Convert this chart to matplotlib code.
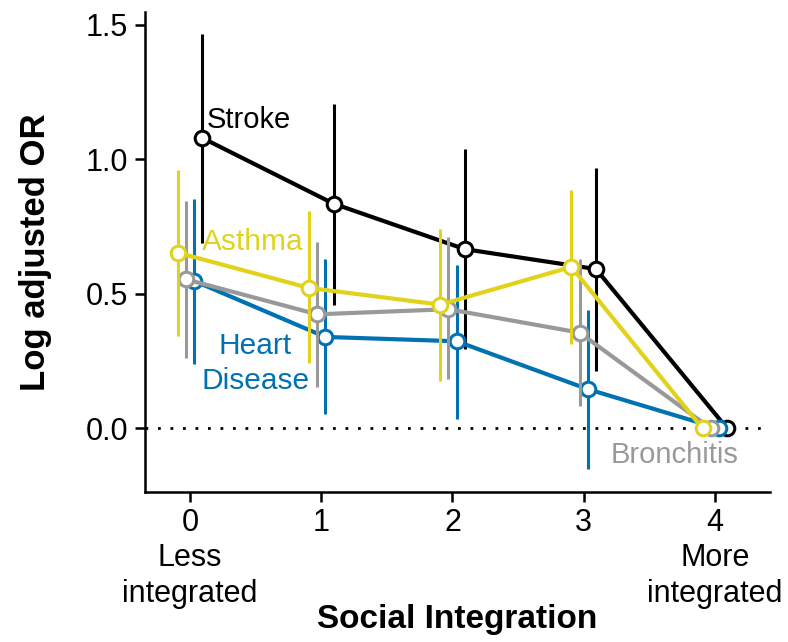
import matplotlib
matplotlib.use("Agg")
from matplotlib import pyplot as plt
import numpy as np

plt.rcParams['font.family'] = ['Liberation Sans', 'DejaVu Sans']

levels = [0, 1, 2, 3, 4]
tick_labels = ["0\nLess\nintegrated", "1", "2", "3", "4\nMore\nintegrated"]

series_names = ["Stroke", "Heart Disease", "Bronchitis", "Asthma"]
series_colors = ["#000000", "#0072B2", "#999999", "#E2D21C"]
series_offsets = [0.09375, 0.03125, -0.03125, -0.09375]

stroke_est = [1.079, 0.835, 0.666, 0.592, 0.0]
stroke_lo = [0.689, 0.458, 0.294, 0.213, 0.0]
stroke_hi = [1.464, 1.204, 1.037, 0.969, 0.0]

heart_est = [0.548, 0.340, 0.324, 0.146, 0.0]
heart_lo = [0.241, 0.053, 0.037, -0.149, 0.0]
heart_hi = [0.854, 0.629, 0.609, 0.439, 0.0]

bronch_est = [0.554, 0.424, 0.443, 0.356, 0.0]
bronch_lo = [0.262, 0.155, 0.182, 0.083, 0.0]
bronch_hi = [0.845, 0.693, 0.712, 0.630, 0.0]

asthma_est = [0.653, 0.522, 0.460, 0.600, 0.0]
asthma_lo = [0.344, 0.242, 0.176, 0.312, 0.0]
asthma_hi = [0.959, 0.808, 0.740, 0.887, 0.0]

estimates = [stroke_est, heart_est, bronch_est, asthma_est]
lows = [stroke_lo, heart_lo, bronch_lo, asthma_lo]
highs = [stroke_hi, heart_hi, bronch_hi, asthma_hi]

fig = plt.figure(figsize=(7.88, 6.42), dpi=100)
ax = fig.add_axes([0.184, 0.234, 0.793, 0.747])

ax.axhline(0, color="black", linestyle=(0, (1, 3.5)), linewidth=2, zorder=1)

for i, name in enumerate(series_names):
    x = np.array(levels) + series_offsets[i]
    est = np.array(estimates[i])
    lo = np.array(lows[i])
    hi = np.array(highs[i])
    z = 2 + i
    ax.vlines(x, lo, hi, color=series_colors[i], linewidth=2.2, zorder=z)
    ax.plot(x, est, color=series_colors[i], linewidth=3.0, marker="o",
            markersize=10.5, markerfacecolor="white",
            markeredgecolor=series_colors[i], markeredgewidth=2.2, zorder=z)

ax.text(0.13, 1.145, "Stroke", color=series_colors[0], fontsize=21,
        ha="left", va="center")
ax.text(0.499, 0.242, "Heart\nDisease", color=series_colors[1], fontsize=21.5,
        ha="center", va="center", linespacing=1.3)
ax.text(3.695, -0.099, "Bronchitis", color=series_colors[2], fontsize=21,
        ha="center", va="center")
ax.text(0.09, 0.693, "Asthma", color=series_colors[3], fontsize=21.5,
        ha="left", va="center")

ax.set_xlim(-0.343, 4.419)
ax.set_ylim(-0.235, 1.546)
ax.set_xticks(levels)
ax.set_xticklabels(tick_labels, linespacing=1.22)
ax.set_yticks([0.0, 0.5, 1.0, 1.5])
ax.set_yticklabels(["0.0", "0.5", "1.0", "1.5"])
ax.tick_params(labelsize=22, width=1.8, length=7, direction="out", pad=5)

for side in ["top", "right"]:
    ax.spines[side].set_visible(False)
for side in ["left", "bottom"]:
    ax.spines[side].set_linewidth(1.8)

ax.set_xlabel("Social Integration", fontsize=24, fontweight="bold", labelpad=-3)
ax.set_ylabel("Log adjusted OR", fontsize=25, fontweight="bold", labelpad=24)

fig.savefig("out.png", dpi=100)
